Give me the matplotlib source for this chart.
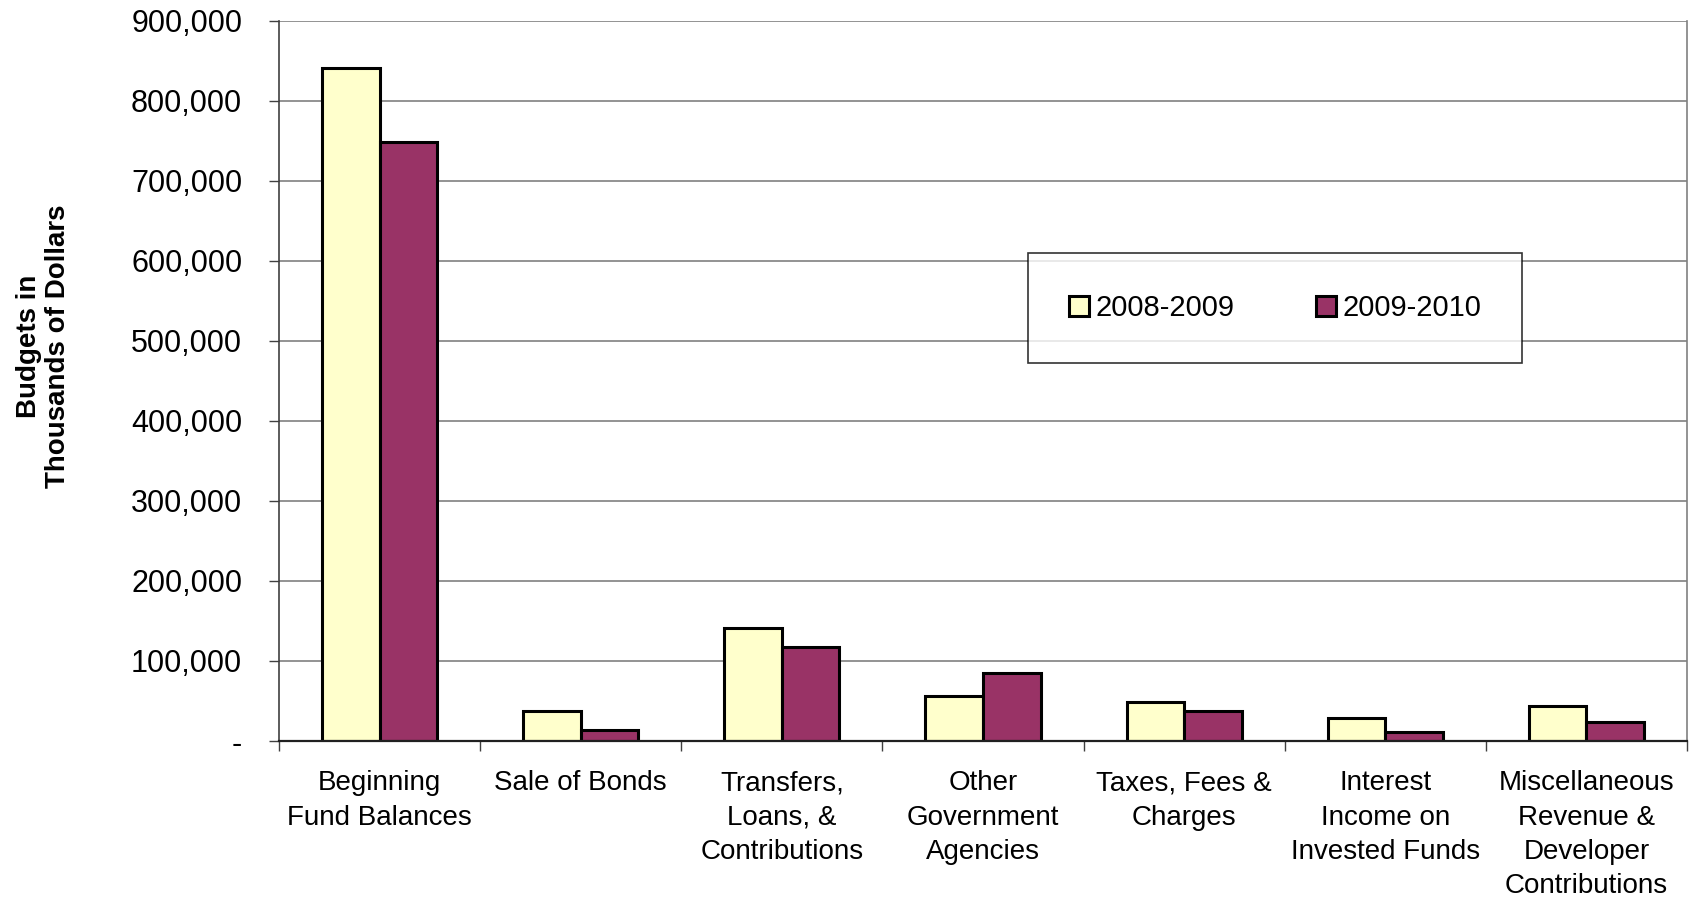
import numpy as np
import matplotlib
matplotlib.use("Agg")
import matplotlib.pyplot as plt
from matplotlib.ticker import FuncFormatter

plt.rcParams['font.family'] = ['Liberation Sans', 'DejaVu Sans']

categories = ["Beginning\nFund Balances", "Sale of Bonds", "Transfers,\nLoans, &\nContributions",
              "Other\nGovernment\nAgencies", "Taxes, Fees &\nCharges", "Interest\nIncome on\nInvested Funds",
              "Miscellaneous\nRevenue &\nDeveloper\nContributions"]
series_names = ["2008-2009", "2009-2010"]
budget_0809 = [841000, 38000, 141000, 56000, 49000, 29000, 44000]
budget_0910 = [749000, 14000, 118000, 85000, 38000, 11000, 24000]
y_ticks = [0, 100000, 200000, 300000, 400000, 500000, 600000, 700000, 800000, 900000]

fig = plt.figure(figsize=(16.91, 9.01), dpi=100)
ax = fig.add_axes([279 / 1691, 1 - 741 / 901, (1687 - 279) / 1691, (741 - 21) / 901])

x = np.arange(len(categories))
w = 0.286
bars1 = ax.bar(x - w / 2, budget_0809, w, color='#FFFFCC', edgecolor='black', linewidth=2.2,
               label=series_names[0], zorder=3)
bars2 = ax.bar(x + w / 2, budget_0910, w, color='#993366', edgecolor='black', linewidth=2.2,
               label=series_names[1], zorder=3)

ax.set_xlim(-0.5, len(categories) - 0.5)
ax.set_ylim(0, 900000)
ax.set_yticks(y_ticks)
ax.yaxis.set_major_formatter(FuncFormatter(lambda v, p: "-" if v == 0 else f"{int(v):,}"))
ax.grid(axis='y', color='#808080', linewidth=1.2, zorder=0)

# category labels sit between boundary ticks
ax.set_xticks(np.arange(len(categories) + 1) - 0.5)
ax.set_xticklabels([])
ax.set_xticks(x, minor=True)
ax.set_xticklabels(categories, minor=True, fontsize=20, linespacing=1.42)
ax.tick_params(axis='x', which='minor', length=0, pad=21)
ax.tick_params(axis='x', which='major', length=7.5, width=1, direction='out', color='#404040')
ax.tick_params(axis='y', labelsize=22, length=7.5, width=1, pad=19, color='#404040')

ax.spines['left'].set_color('#404040')
ax.spines['left'].set_linewidth(1.2)
ax.spines['bottom'].set_color('#202020')
ax.spines['bottom'].set_linewidth(1.6)
ax.spines['bottom'].set_zorder(4)
ax.spines['right'].set_color('#808080')
ax.spines['right'].set_linewidth(1.2)
ax.spines['top'].set_visible(False)

fig.text(0.026, 0.616, "Budgets in\nThousands of Dollars", rotation=90, ha='center', va='center',
         fontsize=20, fontweight='bold', linespacing=1.15)

leg = ax.legend(loc='center', bbox_to_anchor=(0.754, 0.658), bbox_transform=fig.transFigure,
                ncol=2, fontsize=21, frameon=True, fancybox=False, edgecolor='black',
                borderpad=1.4, columnspacing=2.8, handlelength=0.7, handleheight=0.7,
                handletextpad=0.2, borderaxespad=0)
leg.get_frame().set_linewidth(1.2)
leg.set_zorder(5)

fig.savefig("out.png", dpi=100, facecolor='white')
